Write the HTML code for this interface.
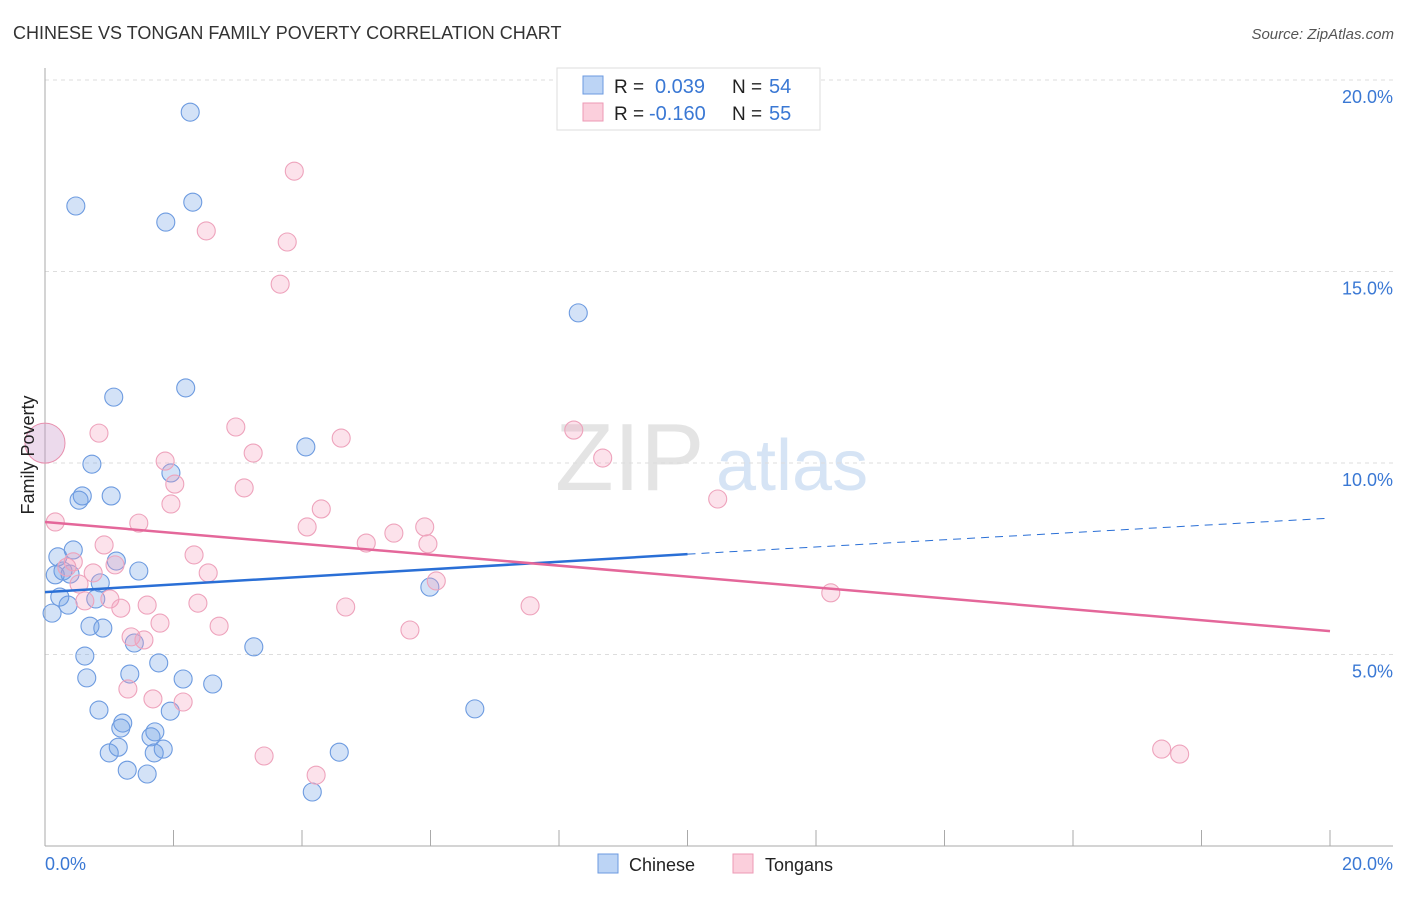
<!DOCTYPE html>
<html><head><meta charset="utf-8"><style>
body{margin:0;background:#fff;font-family:"Liberation Sans",sans-serif;}
svg text{font-family:"Liberation Sans",sans-serif;}
</style></head><body>
<svg id="c" width="1406" height="892" xmlns="http://www.w3.org/2000/svg">
<text x="13" y="39" font-size="18" fill="#333">CHINESE VS TONGAN FAMILY POVERTY CORRELATION CHART</text>
<text x="1394" y="39" font-size="15" fill="#555" text-anchor="end" font-style="italic">Source: ZipAtlas.com</text>
<text x="555" y="490" font-size="96" fill="#e4e4e4" font-family="Liberation Serif">ZIP</text>
<text x="716" y="490" font-size="72" fill="#d6e4f5">atlas</text>
<g id="grid"></g><g id="pts"></g><g id="lines"></g>
<text x="34" y="455" font-size="18" fill="#222" text-anchor="middle" transform="rotate(-90 34 455)">Family Poverty</text>
<text x="45" y="870" font-size="18" fill="#3a78d4">0.0%</text>
<text x="1393" y="870" font-size="18" fill="#3a78d4" text-anchor="end">20.0%</text>
<g>
<rect x="557" y="68" width="263" height="62" fill="#fff" stroke="#ddd"/>
<rect x="583" y="76" width="20" height="18" fill="#bcd4f5" stroke="#6b9ae0"/>
<rect x="583" y="103" width="20" height="18" fill="#fbcfdc" stroke="#ec9ab5"/>
<text x="614" y="93" font-size="19" fill="#222">R =</text>
<text x="655" y="93" font-size="20" fill="#3a78d4">0.039</text>
<text x="732" y="93" font-size="19" fill="#222">N =</text>
<text x="769" y="93" font-size="20" fill="#3a78d4">54</text>
<text x="614" y="120" font-size="19" fill="#222">R =</text>
<text x="649" y="120" font-size="20" fill="#3a78d4">-0.160</text>
<text x="732" y="120" font-size="19" fill="#222">N =</text>
<text x="769" y="120" font-size="20" fill="#3a78d4">55</text>
</g>
<g>
<rect x="598" y="854" width="20" height="19" fill="#bcd4f5" stroke="#6b9ae0"/>
<text x="629" y="871" font-size="18" fill="#222">Chinese</text>
<rect x="733" y="854" width="20" height="19" fill="#fbcfdc" stroke="#ec9ab5"/>
<text x="765" y="871" font-size="18" fill="#222">Tongans</text>
</g>
</svg>
<script>
const yTicks=[5,10,15,20];
const yTickLabels=["5.0%","10.0%","15.0%","20.0%"];
const xTicks=[0,2,4,6,8,10,12,14,16,18,20];
const chineseX=[2.26,.48,2.30,1.88,8.30,2.19,1.07,4.06,.73,1.96,.58,.53,1.03,.20,.44,1.11,1.46,.16,.28,.39,.86,.23,.36,.79,.11,.70,.90,1.39,3.25,5.99,.62,1.77,.65,1.32,2.15,2.61,.84,1.95,6.69,1.21,1.18,1.71,1.65,1.14,1.00,1.70,1.84,4.58,1.28,1.59,4.16];
const chineseY=[19.16,16.71,16.81,16.29,13.92,11.96,11.72,10.42,9.97,9.74,9.14,9.03,9.14,7.55,7.73,7.44,7.18,7.08,7.18,7.10,6.87,6.50,6.29,6.45,6.08,5.74,5.69,5.30,5.20,6.76,4.96,4.78,4.39,4.49,4.36,4.23,3.55,3.52,3.58,3.21,3.08,2.98,2.85,2.58,2.43,2.43,2.53,2.45,1.98,1.88,1.41];
const tonganX=[3.88,2.51,3.77,3.66,2.97,.84,8.23,4.61,3.24,8.68,1.87,2.02,3.10,1.96,10.47,4.30,.16,1.46,4.08,5.91,5.43,5.00,5.96,.92,2.32,.44,.34,.75,1.09,2.54,.53,6.09,12.23,1.01,.62,2.38,1.59,1.18,4.68,7.55,1.79,2.71,5.68,1.34,1.54,1.29,1.68,2.15,3.41,4.22,17.38,17.66];
const tonganY=[17.62,16.06,15.77,14.67,10.94,10.78,10.86,10.65,10.26,10.13,10.05,9.45,9.35,8.93,9.06,8.80,8.46,8.43,8.33,8.33,8.17,7.91,7.89,7.86,7.60,7.42,7.28,7.13,7.34,7.13,6.84,6.92,6.61,6.45,6.40,6.34,6.29,6.21,6.24,6.27,5.82,5.74,5.64,5.46,5.38,4.10,3.84,3.76,2.35,1.85,2.53,2.40];
const chineseTrend=[6.63,7.62,8.56];
const tonganTrend=[8.46,5.61];
const NS="http://www.w3.org/2000/svg";
const X=v=>45+v/20*1285, Y=v=>846-v*38.3;
function mk(t,a,p){const e=document.createElementNS(NS,t);for(const k in a)e.setAttribute(k,a[k]);p.appendChild(e);return e;}
const g=document.getElementById('grid');
yTicks.forEach((t,i)=>{
 const l=mk('line',{x1:45,x2:1393,y1:Y(t),y2:Y(t),stroke:'#ddd','stroke-dasharray':'4 4'},g);
 
 
 const tx=mk('text',{x:1393,y:Y(t)+23,'font-size':18,fill:'#3a78d4','text-anchor':'end'},g);
 tx.textContent=yTickLabels[i];
 
 
});
const ax=mk('line',{x1:45,x2:45,y1:68,y2:846,stroke:'#aaa'},g);


const bx=mk('line',{x1:45,x2:1393,y1:846,y2:846,stroke:'#aaa'},g);


xTicks.forEach(t=>{
 const l=mk('line',{x1:X(t),x2:X(t),y1:830,y2:846,stroke:'#aaa'},g);
 
 
});
const p=document.getElementById('pts');
const big=mk('circle',{cx:X(0),cy:Y(10.52),r:20,fill:'rgba(200,150,200,0.35)',stroke:'#e890ae'},p);


chineseX.forEach((x,i)=>{
 const c=mk('circle',{cx:X(x),cy:Y(chineseY[i]),r:9,fill:'rgba(110,160,230,0.3)',stroke:'#6d9be0','stroke-width':1.1},p);
 
 
});
tonganX.forEach((x,i)=>{
 const c=mk('circle',{cx:X(x),cy:Y(tonganY[i]),r:9,fill:'rgba(245,160,190,0.3)',stroke:'#eea3bc','stroke-width':1.1},p);
 
 
});
const L=document.getElementById('lines');
const b1=mk('line',{x1:X(0),y1:Y(chineseTrend[0]),x2:X(10),y2:Y(chineseTrend[1]),stroke:'#2a6fd6','stroke-width':2.5},L);


const b2=mk('line',{x1:X(10),y1:Y(chineseTrend[1]),x2:X(20),y2:Y(chineseTrend[2]),stroke:'#2a6fd6','stroke-width':1,'stroke-dasharray':'8 6'},L);


const t1=mk('line',{x1:X(0),y1:Y(tonganTrend[0]),x2:X(20),y2:Y(tonganTrend[1]),stroke:'#e4679a','stroke-width':2.5},L);


</script>
</body></html>
